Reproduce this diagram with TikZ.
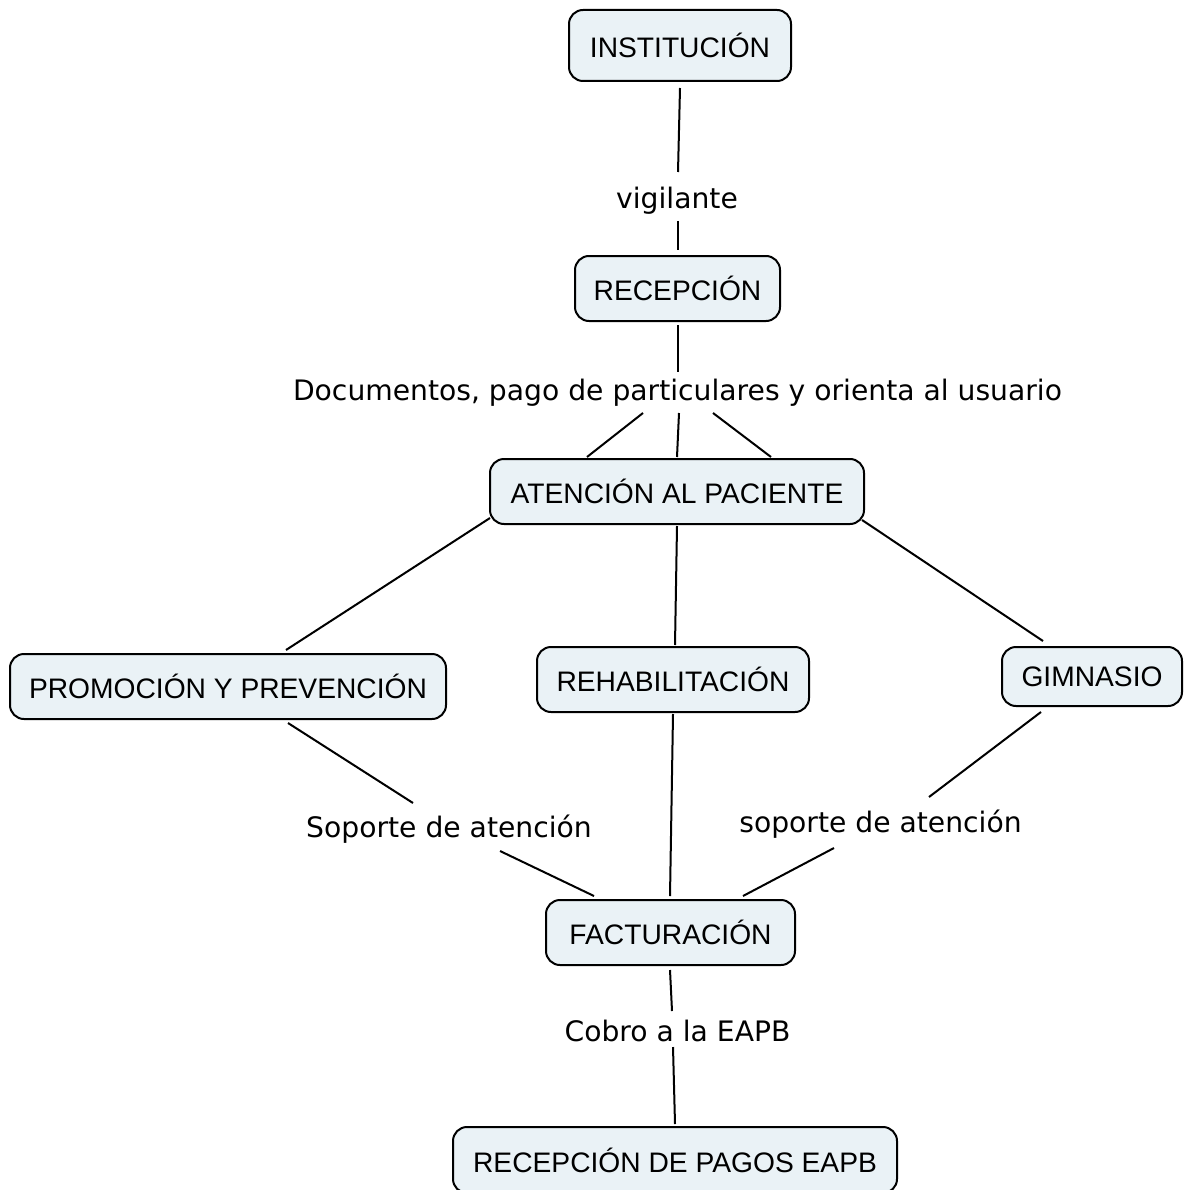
\documentclass[tikz,border=0pt]{standalone}
\usepackage{fontspec}
\setmainfont{Liberation Sans}
\newfontfamily\lblfont{DejaVu Sans}
\definecolor{cfill}{RGB}{234,242,246}
\begin{document}
\begin{tikzpicture}[x=1pt,y=-1pt,
  concept/.style={draw=black, line width=2pt, rounded corners=14pt, fill=cfill,
    font=\fontsize{28.2}{32}\selectfont, text=black, inner sep=0pt, outer sep=0pt},
  lbl/.style={font=\lblfont\fontsize{28.2}{32}\selectfont, inner sep=0pt, outer sep=0pt},
  link/.style={line width=2pt, draw=black}]
\useasboundingbox (0,0) rectangle (1186,1190);
\clip (0,0) rectangle (1186,1190);
\fill[white] (0,0) rectangle (1186,1190);

% concepts
\node[concept, minimum width=222pt, minimum height=71pt] (inst) at (680,45.5) {INSTITUCIÓN};
\node[concept, minimum width=205pt, minimum height=65pt] (rec) at (677.5,288.5) {RECEPCIÓN};
\node[concept, minimum width=374pt, minimum height=65pt] (aten) at (677,491.5) {ATENCIÓN AL PACIENTE};
\node[concept, minimum width=436pt, minimum height=65pt] (prom) at (228,686.5) {PROMOCIÓN Y PREVENCIÓN};
\node[concept, minimum width=272pt, minimum height=65pt] (rehab) at (673,679.5) {REHABILITACIÓN};
\node[concept, minimum width=180pt, minimum height=59pt] (gim) at (1092,676.5) {GIMNASIO};
\node[concept, minimum width=249pt, minimum height=65pt] (fact) at (670.5,932.5) {FACTURACIÓN};
\node[concept, minimum width=444pt, minimum height=66pt] (pagos) at (675,1160) {RECEPCIÓN DE PAGOS EAPB};

% link labels
\node[lbl] (vig) at (677,201) {vigilante};
\node[lbl] (doc) at (677.5,393) {Documentos, pago de particulares y orienta al usuario};
\node[lbl] (sop1) at (449,829) {Soporte de atención};
\node[lbl] (sop2) at (880.5,824) {soporte de atención};
\node[lbl] (cobro) at (677.5,1031) {Cobro a la EAPB};

% connectors
\draw[link] ([shift={(0,42.5)}]inst.center) -- ([shift={(1,-29)}]vig.center);
\draw[link] ([shift={(1,20)}]vig.center) -- ([shift={(0.5,-38.5)}]rec.center);
\draw[link] ([shift={(0.5,36.5)}]rec.center) -- ([shift={(0.5,-21)}]doc.center);
\draw[link] ([shift={(-34.5,20)}]doc.center) -- ([shift={(-90,-34.5)}]aten.center);
\draw[link] ([shift={(1.5,20)}]doc.center) -- ([shift={(0,-34.5)}]aten.center);
\draw[link] ([shift={(35.5,20)}]doc.center) -- ([shift={(94,-34.5)}]aten.center);
\draw[link] ([shift={(-187,26.5)}]aten.center) -- ([shift={(58,-36.5)}]prom.center);
\draw[link] ([shift={(0,34.5)}]aten.center) -- ([shift={(2,-34.5)}]rehab.center);
\draw[link] ([shift={(185,28.5)}]aten.center) -- ([shift={(-49,-35.5)}]gim.center);
\draw[link] ([shift={(60,36.5)}]prom.center) -- ([shift={(-36,-26)}]sop1.center);
\draw[link] ([shift={(51,22)}]sop1.center) -- ([shift={(-76.5,-36.5)}]fact.center);
\draw[link] ([shift={(0,34.5)}]rehab.center) -- ([shift={(-0.5,-36.5)}]fact.center);
\draw[link] ([shift={(-51,35.5)}]gim.center) -- ([shift={(48.5,-27)}]sop2.center);
\draw[link] ([shift={(-46.5,24)}]sop2.center) -- ([shift={(72.5,-36.5)}]fact.center);
\draw[link] ([shift={(-0.5,37.5)}]fact.center) -- ([shift={(-5.5,-20)}]cobro.center);
\draw[link] ([shift={(-4.5,16)}]cobro.center) -- ([shift={(0,-36)}]pagos.center);
\end{tikzpicture}
\end{document}
